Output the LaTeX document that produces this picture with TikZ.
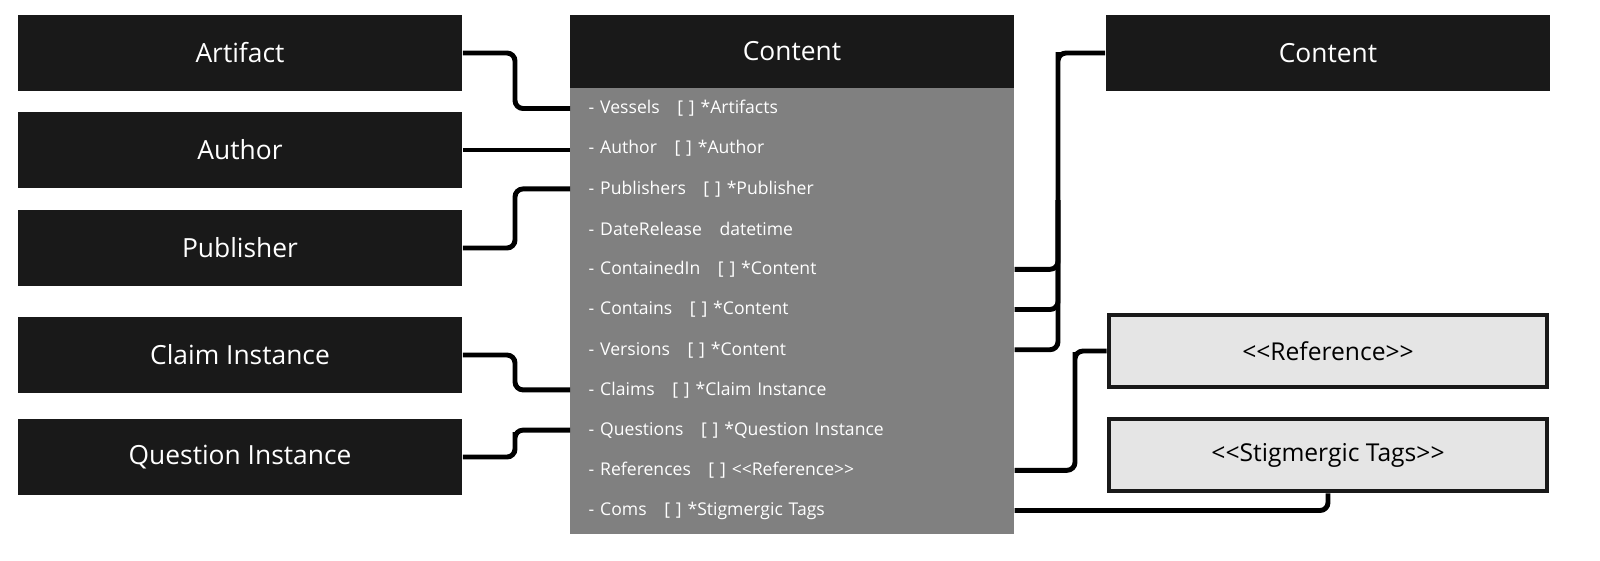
\documentclass[tikz,border=0pt]{standalone}
\usepackage{fontspec}
\setmainfont{Open Sans}
\usetikzlibrary{positioning}
\tikzset{
  dark/.style={fill=black!90, text=white, minimum width=4.44cm, minimum height=0.76cm, font=\fontsize{7.5}{9}\selectfont},
  tag/.style={fill=black!10, draw=black!90, line width=1.3pt, minimum width=4.38cm, minimum height=0.72cm, font=\fontsize{7}{9}\selectfont},
  row/.style={text=white, text width=4.07cm, align=left, inner xsep=0.18cm, inner ysep=0pt, minimum height=0.4cm, anchor=west, font=\fontsize{5}{6}\selectfont},
  link/.style={line width=1.4pt, rounded corners=0.08cm}
}
\begin{document}
\begin{tikzpicture}[x=0.01cm, y=-0.01cm]
  % Left boxes
  \node[dark] (artifact) at (240,53) {Artifact};
  \node[dark] (author) at (240,150) {Author};
  \node[dark] (publisher) at (240,248) {Publisher};
  \node[dark] (claim) at (240,355) {Claim Instance};
  \node[dark] (question) at (240,457) {Question Instance};
  % Central class
  \fill[black!50] (570,88) rectangle (1014,534);
  \node[dark, minimum width=4.44cm, minimum height=0.73cm] (content) at (792,51.5) {Content};
  \foreach \n/\t [count=\i] in {vessels/{- Vessels\quad [ ] *Artifacts},
    auth/{- Author\quad [ ] *Author},
    pubs/{- Publishers\quad [ ] *Publisher},
    date/{- DateRelease\quad datetime},
    within/{- ContainedIn\quad [ ] *Content},
    contains/{- Contains\quad [ ] *Content},
    versions/{- Versions\quad [ ] *Content},
    claims/{- Claims\quad [ ] *Claim Instance},
    questions/{- Questions\quad [ ] *Question Instance},
    refs/{- References\quad [ ] <{}<Reference>{}>},
    coms/{- Coms\quad [ ] *Stigmergic Tags}}
    \node[row] (\n) at (570,{68.3+40.2*\i}) {\t};
  % Right boxes
  \node[dark] (content2) at (1328,53) {Content};
  \node[tag] (reference) at (1328,351) {<{}<Reference>{}>};
  \node[tag] (stig) at (1328,455) {<{}<Stigmergic Tags>{}>};
  % Connectors
  \draw[link] (artifact.east) -| (515,80) |- (vessels.west);
  \draw[link] (author.east) -- (auth.west |- author.east);
  \draw[link] (publisher.east) -| (515,220) |- (pubs.west);
  \draw[link] (claim.east) -| (515,370) |- (claims.west);
  \draw[link] (question.east) -| (515,440) |- (questions.west);
  \draw[link] (within.east) -| (1058,60) |- (content2.west);
  \draw[link] (contains.east) -| (1058,200);
  \draw[link] (versions.east) -| (1058,200);
  \draw[link] (refs.east) -| (1075,360) |- (reference.west);
  \draw[link] (coms.east) -| (stig.south);
  \pgfresetboundingbox
  \useasboundingbox (0,0) rectangle (1600,560);
\end{tikzpicture}
\end{document}
